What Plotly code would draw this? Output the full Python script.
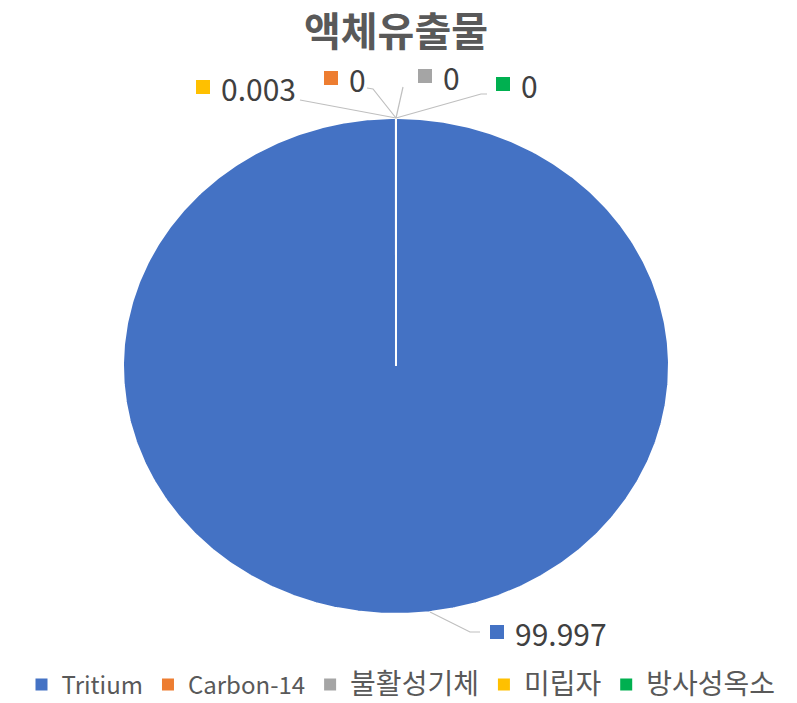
import numpy as np
import plotly.graph_objects as go

# Liquid effluent composition (%)
categories = ["Tritium", "Carbon-14", "불활성기체", "미립자", "방사성옥소"]
values = [99.997, 0, 0, 0.003, 0]
value_labels = ["99.997", "0", "0", "0.003", "0"]
colors = ["#4472C4", "#ED7D31", "#A5A5A5", "#FFC000", "#00B050"]

W, H = 797, 703
CX, CY = 396, 366        # pie centre (px)
RX, RY = 273, 248        # pie radii (px)

# Label key-square centres in pixels
label_px = {
    "Tritium": (497, 632),
    "Carbon-14": (331, 78),
    "불활성기체": (425, 76),
    "미립자": (203, 87),
    "방사성옥소": (503, 84),
}
# Leader line vertices in pixels
leader_px = {
    "Tritium": [(430, 612), (470, 632), (480, 632)],
    "Carbon-14": [(396, 118), (373, 89), (367, 88)],
    "불활성기체": [(396, 118), (403, 87)],
    "미립자": [(396, 118), (300, 100)],
    "방사성옥소": [(396, 118), (481, 94), (487, 94)],
}


def to_data(px, py):
    return (px - CX) / RX, (CY - py) / RY


def legend_name(name):
    # Hangul names are set a little larger so they balance the Latin names
    if any("\uac00" <= ch <= "\ud7a3" for ch in name):
        return f'<span style="font-size:28px">{name}</span>'
    return name


fig = go.Figure()

# Slices, clockwise from 12 o'clock
total = sum(values)
start = 0.0
for cat, val, col in zip(categories, values, colors):
    frac = val / total
    if frac > 0:
        t = np.linspace(start, start + frac, max(3, int(frac * 720)))
        ang = np.pi / 2 - 2 * np.pi * t
        xs = np.concatenate([[0], np.cos(ang), [0]])
        ys = np.concatenate([[0], np.sin(ang), [0]])
        fig.add_trace(go.Scatter(
            x=xs, y=ys, mode="lines", fill="toself", fillcolor=col,
            line=dict(color="white", width=2), showlegend=False,
            hoverinfo="text", text=f"{cat}: {val}"))
    start += frac

# Leader lines
for cat in categories:
    pts = [to_data(*p) for p in leader_px[cat]]
    fig.add_trace(go.Scatter(
        x=[p[0] for p in pts], y=[p[1] for p in pts], mode="lines",
        line=dict(color="#BFBFBF", width=1.2), showlegend=False,
        hoverinfo="skip"))

# Data labels: coloured key square plus value text
for cat, lab, col in zip(categories, value_labels, colors):
    x, y = to_data(*label_px[cat])
    fig.add_trace(go.Scatter(
        x=[x], y=[y], mode="markers",
        marker=dict(symbol="square", size=14, color=col),
        showlegend=False, hoverinfo="skip", cliponaxis=False))
    fig.add_annotation(
        x=x, y=y, text=lab, showarrow=False, xanchor="left",
        yanchor="middle", xshift=16, yshift=-1,
        font=dict(size=30, color="#404040",
                  family="Noto Sans CJK KR, Open Sans, sans-serif"))

# Legend entries
for cat, col in zip(categories, colors):
    fig.add_trace(go.Scatter(
        x=[None], y=[None], mode="markers", name=legend_name(cat),
        marker=dict(symbol="square", size=12, color=col)))

fig.update_layout(
    width=W, height=H,
    margin=dict(l=0, r=0, t=0, b=0, autoexpand=False),
    paper_bgcolor="white", plot_bgcolor="white",
    xaxis=dict(visible=False, range=[-CX / RX, (W - CX) / RX], fixedrange=True),
    yaxis=dict(visible=False, range=[-(H - CY) / RY, CY / RY], fixedrange=True),
    title=dict(text="<b>액체유출물</b>", x=396 / W, xanchor="center",
               y=1 - 32 / H, yanchor="middle",
               font=dict(size=40, color="#595959",
                         family="Noto Sans CJK KR, sans-serif")),
    legend=dict(orientation="h", x=401 / W, xanchor="center",
                y=1 - 685 / H, yanchor="middle",
                itemwidth=30, tracegroupgap=0,
                font=dict(size=24, color="#595959",
                          family="Noto Sans CJK KR, Open Sans, sans-serif")),
    showlegend=True,
)

fig.write_html("out.html")
